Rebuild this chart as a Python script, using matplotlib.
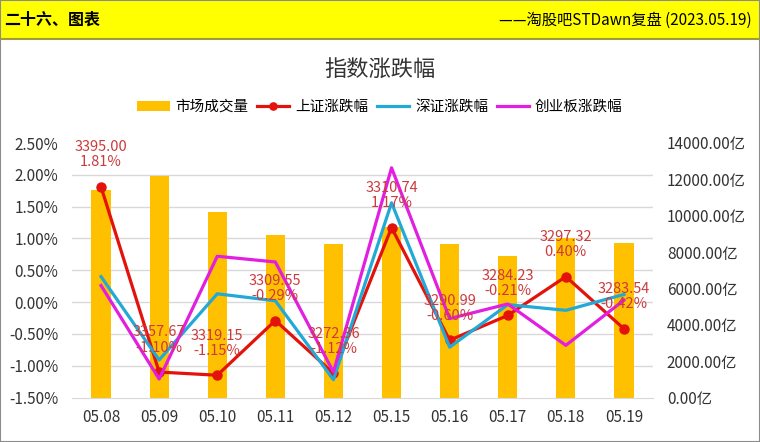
import numpy as np
import matplotlib.pyplot as plt
from matplotlib.patches import Rectangle
from matplotlib.ticker import FuncFormatter, FixedLocator, MultipleLocator

plt.rcParams['font.family'] = ['Noto Sans CJK SC', 'DejaVu Sans']

# data
dates = ['05.08', '05.09', '05.10', '05.11', '05.12', '05.15', '05.16', '05.17', '05.18', '05.19']
volume = [11400, 12200, 10200, 8950, 8460, 9400, 8460, 7800, 8800, 8500]  # 亿
sh_close = [3395.00, 3357.67, 3319.15, 3309.55, 3272.36, 3310.74, 3290.99, 3284.23, 3297.32, 3283.54]
sh_pct = [1.81, -1.10, -1.15, -0.29, -1.12, 1.17, -0.60, -0.21, 0.40, -0.42]
sz_pct = [0.40, -0.91, 0.13, 0.02, -1.22, 1.56, -0.71, -0.04, -0.13, 0.12]
cy_pct = [0.26, -1.21, 0.72, 0.63, -1.10, 2.11, -0.26, -0.03, -0.68, 0.03]

c_bar = '#FFC000'
c_sh = '#E3120B'
c_sz = '#22A9D6'
c_cy = '#E21FE0'
c_lab = '#CC3A3C'

fig = plt.figure(figsize=(7.6, 4.42), dpi=100)
W, H = 760, 442

# header band
fig.patches.append(Rectangle((0, 1 - 39 / H), 1, 39 / H, transform=fig.transFigure,
                             facecolor='#FFFF00', edgecolor='none', zorder=0))
fig.add_artist(plt.Line2D([0, 1], [1 - 39 / H, 1 - 39 / H], transform=fig.transFigure,
                          color='#A09A3C', lw=1.5))
fig.patches.append(Rectangle((0, 0), 1, 1, transform=fig.transFigure, fill=False,
                             edgecolor='#8C8C8C', lw=1.5))
fig.text(4 / W, 1 - 20 / H, '二十六、图表', fontsize=11.5, fontweight='bold', va='center', ha='left')
fig.text(752 / W, 1 - 20 / H, '——淘股吧STDawn复盘 (2023.05.19)', fontsize=11, va='center', ha='right')

fig.text(380 / W, 1 - 69 / H, '指数涨跌幅', fontsize=16, ha='center', va='center', color='#333333')

rect = [72 / W, (H - 397.5) / H, 581 / W, 254.5 / H]
ax2 = fig.add_axes(rect)
ax = fig.add_axes(rect, sharex=ax2)
ax.set_zorder(ax2.get_zorder() + 1)
ax.patch.set_visible(False)

x = np.arange(len(dates))

# bars on the right (volume) axis
bars = ax2.bar(x, volume, width=0.33, color=c_bar, zorder=2, label='市场成交量')
ax2.set_ylim(0, 14000)
ax2.yaxis.tick_right()
ax2.set_yticks(np.arange(0, 14001, 2000))
ax2.yaxis.set_major_formatter(FuncFormatter(lambda v, p: f'{v:.2f}亿'))
ax2.yaxis.set_minor_locator(FixedLocator(np.linspace(0, 14000, 9)))
ax2.grid(which='minor', axis='y', color='#D9D9D9', lw=1)
ax2.set_axisbelow(True)
ax2.tick_params(axis='y', which='both', length=0, labelsize=11, pad=10, colors='#333333')
ax2.tick_params(axis='x', length=0, labelsize=11, pad=8, colors='#333333')
ax2.set_xticks(x)
ax2.set_xticklabels(dates)
ax2.set_xlim(-0.5, len(dates) - 0.5)
for s in ['top', 'left', 'right']:
    ax2.spines[s].set_visible(False)
ax2.spines['bottom'].set_color('#D9D9D9')

# lines on the left (pct) axis
l1, = ax.plot(x, sh_pct, color=c_sh, lw=2.3, marker='o', ms=6.5, label='上证涨跌幅')
l2, = ax.plot(x, sz_pct, color=c_sz, lw=2.3, label='深证涨跌幅')
l3, = ax.plot(x, cy_pct, color=c_cy, lw=2.3, label='创业板涨跌幅')
ax.set_ylim(-1.5, 2.5)
ax.yaxis.set_major_locator(MultipleLocator(0.5))
ax.yaxis.set_major_formatter(FuncFormatter(lambda v, p: f'{v:.2f}%'))
ax.yaxis.tick_left()
ax.tick_params(axis='y', length=0, labelsize=11, pad=10, colors='#333333')
ax.tick_params(axis='x', bottom=False, labelbottom=False)
for s in ax.spines.values():
    s.set_visible(False)

for xi, c, p in zip(x, sh_close, sh_pct):
    ax.annotate(f'{c:.2f}\n{p:.2f}%', (xi, p), xytext=(0, 32), textcoords='offset pixels',
                ha='center', va='center', fontsize=10.5, color=c_lab, linespacing=1.1, zorder=5)

fig.legend(handles=[bars, l1, l2, l3], loc='center', bbox_to_anchor=(380 / W, 1 - 107 / H),
           ncol=4, frameon=False, fontsize=10.5, handlelength=2.2, handletextpad=0.4,
           columnspacing=0.6, markerscale=0.8)

fig.savefig('out.png', dpi=100)
